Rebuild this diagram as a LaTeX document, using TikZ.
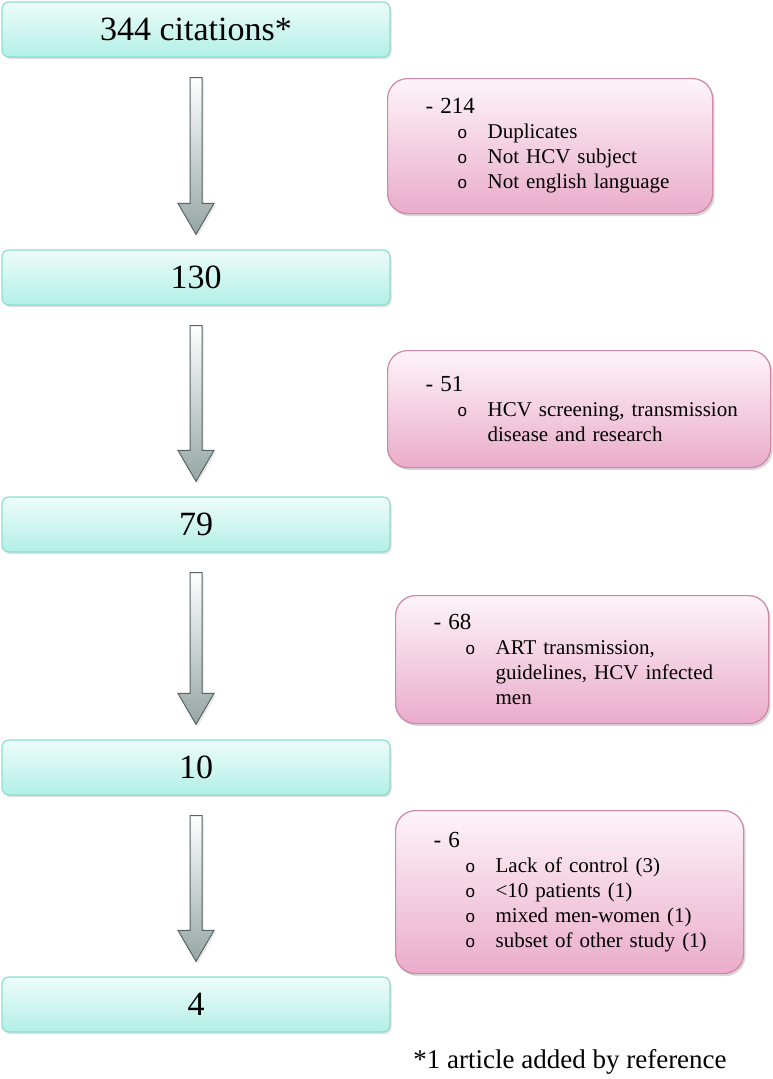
\documentclass[tikz,border=0pt]{standalone}
\usepackage{fontspec}
\setmainfont{Liberation Serif}
\newfontfamily\bulletfont{Liberation Sans}
\usetikzlibrary{calc, shadows}

\definecolor{tealline}{RGB}{140,222,210}
\definecolor{tealtop}{RGB}{238,252,250}
\definecolor{tealbot}{RGB}{178,240,230}
\definecolor{pinkline}{RGB}{205,135,165}
\definecolor{pinktop}{RGB}{254,244,249}
\definecolor{pinkbot}{RGB}{234,172,202}
\definecolor{arrowline}{RGB}{85,100,100}
\definecolor{arrowbot}{RGB}{150,165,165}

\tikzset{
  countbox/.style = {draw=tealline, line width=1.2pt, rounded corners=7pt,
    top color=tealtop, bottom color=tealbot, minimum width=388pt, minimum height=55pt,
    font=\fontsize{34}{40}\selectfont,
    drop shadow={opacity=0.25, shadow xshift=1.5pt, shadow yshift=-2pt}},
  dropbox/.style = {draw=pinkline, line width=1.2pt, rounded corners=20pt,
    top color=pinktop, bottom color=pinkbot, anchor=north west, align=left,
    inner xsep=38pt, font=\fontsize{21}{25}\selectfont,
    drop shadow={opacity=0.3, shadow xshift=2pt, shadow yshift=-2.5pt}},
  fatarrow/.style = {draw=arrowline, line width=1pt, top color=white, bottom color=arrowbot,
    drop shadow={opacity=0.15, shadow xshift=2pt, shadow yshift=-2pt}}
}

\newcommand{\headline}[1]{\mbox{\fontsize{23}{25}\selectfont #1}}
\newcommand{\dropitem}[1]{\\\mbox{\hspace*{32pt}\makebox[30pt][l]{\bulletfont\fontsize{17}{25}\selectfont o}#1}}
\newcommand{\dropmore}[1]{\\\mbox{\hspace*{62pt}#1}}
\newcommand{\flowarrow}[2]{%
  \draw[fatarrow] let \p1 = ($(#1.south)+(0,20)$), \p2 = ($(#2.north)+(0,-15)$) in
    (\x1-6pt,\y1) -- (\x1+6pt,\y1) -- (\x1+6pt,\y2+31pt) -- (\x1+18pt,\y2+31pt)
    -- (\x1,\y2) -- (\x1-18pt,\y2+31pt) -- (\x1-6pt,\y2+31pt) -- cycle;}

\begin{document}
\begin{tikzpicture}[x=1pt, y=-1pt]
\useasboundingbox (0,0) rectangle (773,1079);

% counts
\node[countbox] (cit) at (196,29.5) {344 citations*};
\node[countbox] (n130) at (196,277.5) {130};
\node[countbox] (n79) at (196,524.5) {79};
\node[countbox] (n10) at (196,767.5) {10};
\node[countbox] (n4) at (196,1004.5) {4};

% exclusions
\node[dropbox, text width=249pt, minimum height=135pt] (ex214) at (387,78)
  {\headline{- 214}\dropitem{Duplicates}\dropitem{Not HCV subject}\dropitem{Not english language}};
\node[dropbox, text width=307pt, minimum height=117pt] (ex51) at (387,350)
  {\headline{- 51}\dropitem{HCV screening, transmission}\dropmore{disease and research}};
\node[dropbox, text width=297pt, minimum height=128pt] (ex68) at (395,595)
  {\headline{- 68}\dropitem{ART transmission,}\dropmore{guidelines, HCV infected}\dropmore{men}};
\node[dropbox, text width=272pt, minimum height=163pt] (ex6) at (395,810)
  {\headline{- 6}\dropitem{Lack of control (3)}\dropitem{<10 patients (1)}\dropitem{mixed men-women (1)}\dropitem{subset of other study (1)}};

\flowarrow{cit}{n130}
\flowarrow{n130}{n79}
\flowarrow{n79}{n10}
\flowarrow{n10}{n4}

\node[font=\fontsize{27}{30}\selectfont] (note) at (570,1062) {*1 article added by reference};
\end{tikzpicture}
\end{document}
